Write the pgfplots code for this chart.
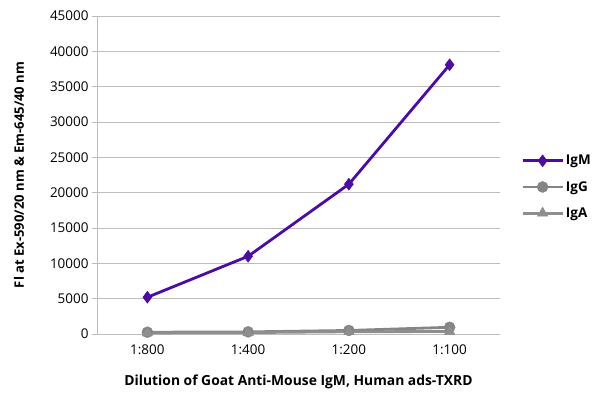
\documentclass[border=0pt]{standalone}
\usepackage{pgfplots}
\pgfplotsset{compat=1.18}
\usepackage{fontspec}
\setmainfont{Open Sans}
\definecolor{igm}{HTML}{4B0BA8}
\definecolor{igg}{HTML}{858585}
\definecolor{iga}{HTML}{8E8E8E}
\definecolor{gridc}{HTML}{BDBDBD}
\begin{document}
\begin{tikzpicture}
\useasboundingbox (-97bp,-66bp) rectangle (503bp,334bp);
\begin{axis}[
  at={(0,0)}, anchor=south west,
  scale only axis, width=403bp, height=318bp,
  xmin=-0.5, xmax=3.5, ymin=0, ymax=45000,
  xtick={0,1,2,3}, xticklabels={1:800,1:400,1:200,1:100},
  extra x ticks={-0.5,0.5,1.5,2.5,3.5}, extra x tick labels={},
  extra x tick style={major tick length=6bp, tick style={gridc, line width=0.8pt}, tick pos=lower, tick align=outside},
  ytick={0,5000,...,45000},
  major x tick style={draw=none},
  y tick style={gridc, line width=0.8pt}, major tick length=5bp,
  tick align=outside, tick pos=left,
  ymajorgrids, grid style={gridc, line width=0.8pt},
  axis x line*=bottom, axis y line*=left,
  axis line style={gridc, line width=0.8pt, -},
  scaled y ticks=false,
  yticklabel style={/pgf/number format/1000 sep={}, font=\fontsize{13.5}{14}\selectfont, xshift=0bp},
  xticklabel style={font=\fontsize{13.5}{14}\selectfont, yshift=-2bp},
  /pgf/number format/assume math mode=true,
  ylabel={\bfseries Fl at Ex-590/20 nm \& Em-645/40 nm},
  xlabel={\bfseries Dilution of Goat Anti-Mouse IgM, Human ads-TXRD},
  ylabel style={font=\fontsize{13.1}{14}\selectfont, at={(-78bp,159bp)}, anchor=center},
  xlabel style={font=\fontsize{13.9}{14}\selectfont, at={(201.5bp,-48bp)}, anchor=center},
  legend style={draw=none, fill=none, at={(424bp,147bp)}, anchor=west, font=\fontsize{13.5}{14}\selectfont\bfseries, row sep=11bp, inner sep=0pt, nodes={inner sep=2bp}},
  legend cell align=left,
  legend image code/.code={\draw[#1] (0bp,0bp) -- (40bp,0bp); \draw[#1, mark repeat=2, mark phase=2] plot coordinates {(0bp,0bp) (20bp,0bp) (40bp,0bp)};},
  clip=false,
]
\addplot[color=igm, line width=2.8pt, mark=diamond*, mark size=6pt, mark options={fill=igm, solid, line width=0.5pt}] coordinates {(0,5200) (1,11000) (2,21200) (3,38100)};
\addlegendentry{IgM}
\addplot[color=igg, line width=2.8pt, mark=*, mark size=5.5pt, mark options={fill=igg, line width=0.5pt}] coordinates {(0,250) (1,300) (2,500) (3,950)};
\addlegendentry{IgG}
\addplot[color=iga, line width=2.8pt, mark=triangle*, mark size=6pt, mark options={fill=iga, line width=0.5pt}] coordinates {(0,150) (1,200) (2,320) (3,350)};
\addlegendentry{IgA}
\end{axis}
\end{tikzpicture}
\end{document}
